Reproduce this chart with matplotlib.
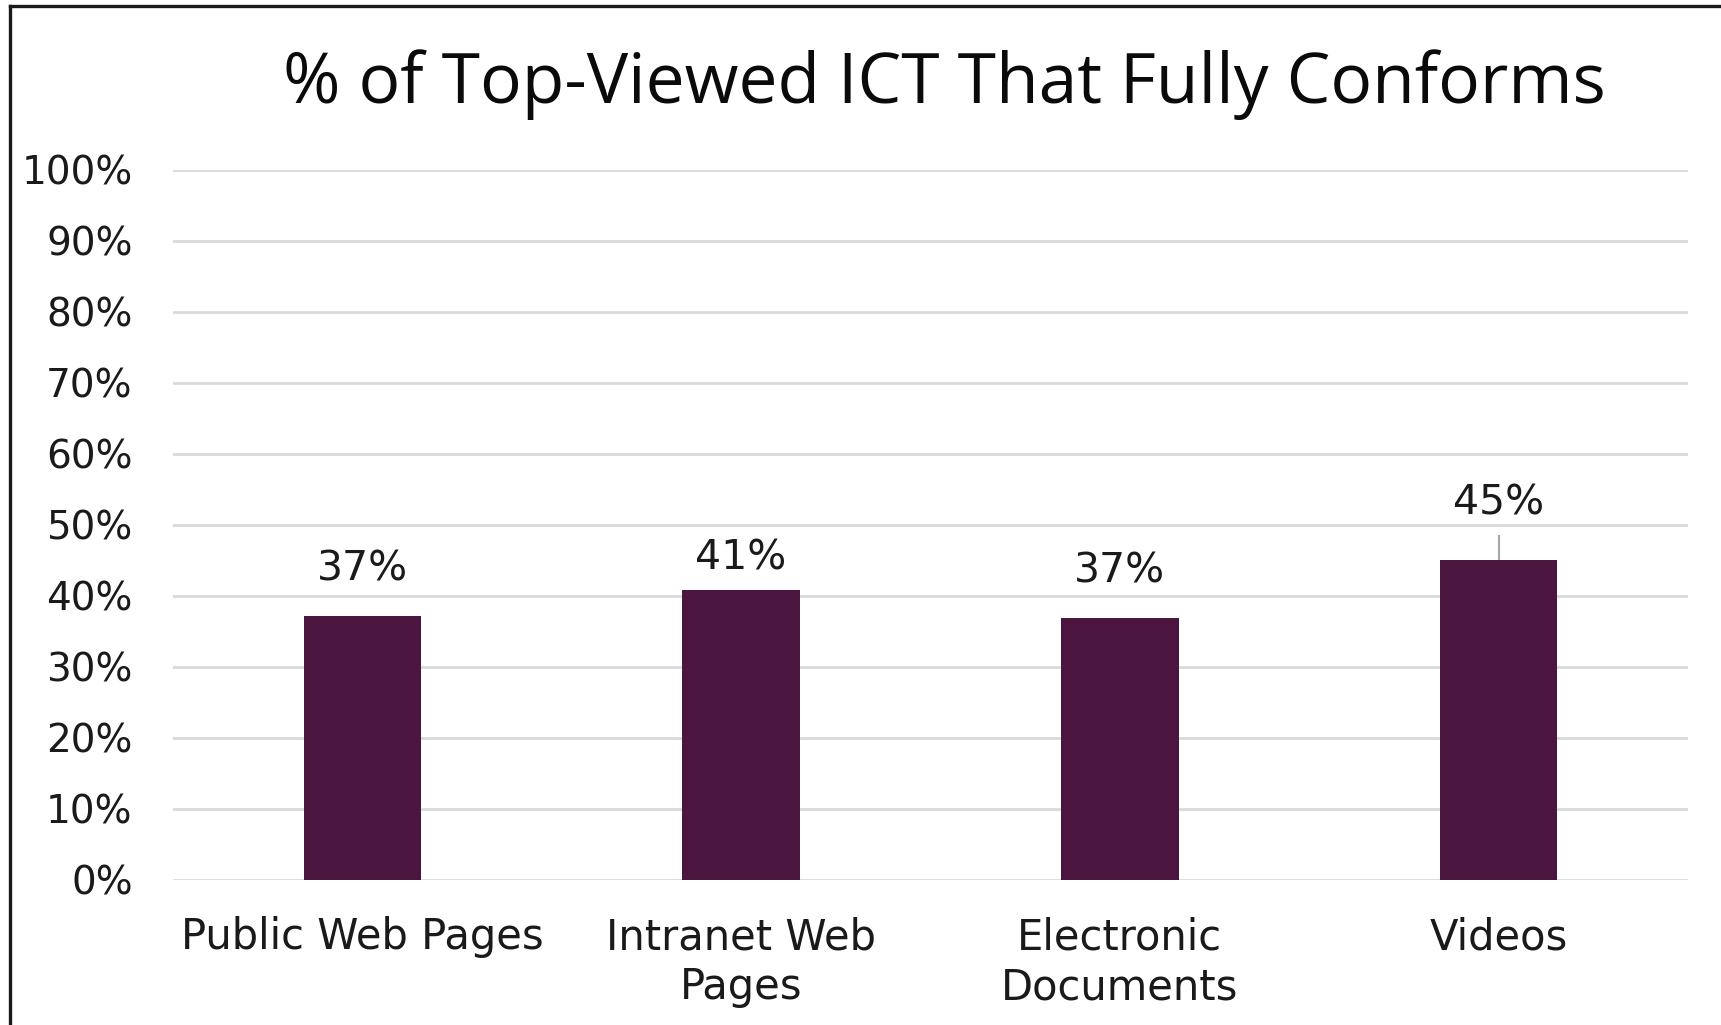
import matplotlib
matplotlib.use("Agg")
import matplotlib.pyplot as plt
from matplotlib.lines import Line2D

# conformance share per content type (percent)
categories = ["Public Web Pages", "Intranet Web\nPages", "Electronic\nDocuments", "Videos"]
conform_pct = [37.2, 40.8, 36.9, 45.0]
y_ticks = [0, 10, 20, 30, 40, 50, 60, 70, 80, 90, 100]

BAR_COLOR = "#4a1640"
GRID_COLOR = "#d9d9d9"
LABEL_FONT = "DejaVu Sans"
TITLE_FONT = "Open Sans"

# how far above each bar its value label sits, in axis units
label_gap = [6.5, 4.5, 6.6, 8.0]

fig = plt.figure(figsize=(17.21, 10.25), dpi=100)
fig.patch.set_facecolor("white")
ax = fig.add_axes([0.1005, 0.1415, 0.8803, 0.6927])

x = range(len(categories))
ax.bar(x, conform_pct, width=0.31, color=BAR_COLOR, zorder=3)

for i, v in enumerate(conform_pct):
    ax.text(i, v + label_gap[i], "{:.0f}%".format(v), ha="center", va="center",
            fontsize=29.5, family=LABEL_FONT, color="#1a1a1a", zorder=4)

# leader line for the videos label
ax.plot([3, 3], [conform_pct[3], conform_pct[3] + 3.4], color="#a6a6a6", lw=1.5, zorder=2)

ax.set_xlim(-0.5, 3.5)
ax.set_ylim(0, 100)
ax.set_yticks(y_ticks)
ax.set_yticklabels(["{}%".format(t) for t in y_ticks], fontsize=28, family=LABEL_FONT,
                   color="#1a1a1a")
ax.set_xticks(list(x))
ax.set_xticklabels(categories, fontsize=30, family=LABEL_FONT, color="#1a1a1a",
                   linespacing=1.25)
ax.tick_params(axis="y", length=0, pad=29)
ax.tick_params(axis="x", length=0, pad=26)
ax.yaxis.grid(True, color=GRID_COLOR, lw=2, zorder=0)
ax.set_axisbelow(True)
for s in ax.spines.values():
    s.set_visible(False)

fig.text(0.5485, 0.917, "% of Top-Viewed ICT That Fully Conforms", ha="center", va="center",
         fontsize=50, family=TITLE_FONT, color="#0a0a0a")

# outer frame: only the left and top edges show
fig.add_artist(Line2D([10 / 1721, 10 / 1721], [0, 1 - 6 / 1025], transform=fig.transFigure,
                      color="#1a1a1a", lw=2.4))
fig.add_artist(Line2D([10 / 1721, 1], [1 - 6 / 1025, 1 - 6 / 1025], transform=fig.transFigure,
                      color="#1a1a1a", lw=2.4))

fig.savefig("out.png", dpi=100)
